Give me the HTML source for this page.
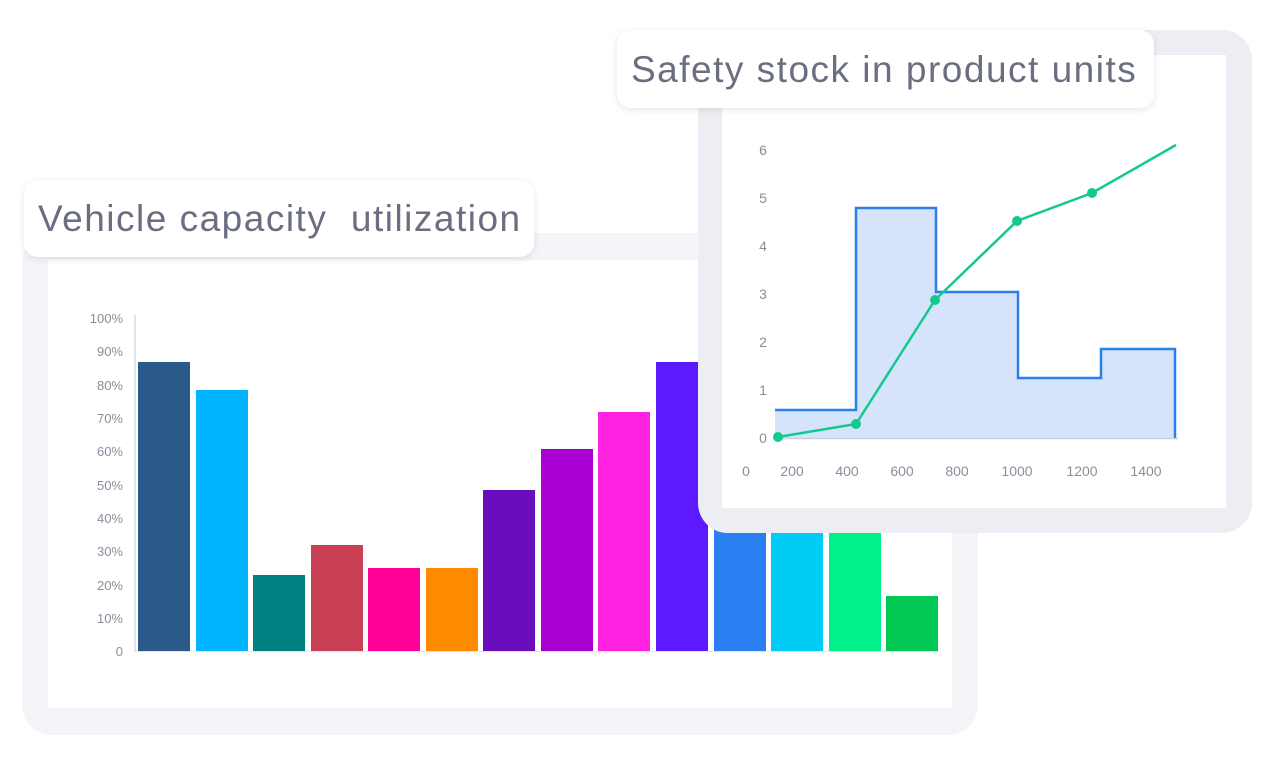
<!DOCTYPE html>
<html><head><meta charset="utf-8"><style>
html,body{margin:0;padding:0;background:#fff;width:1269px;height:759px;overflow:hidden;font-family:"Liberation Sans",sans-serif;}
.abs{position:absolute;}
.title{position:absolute;background:#fff;border-radius:14px;box-shadow:0 2px 8px rgba(0,0,0,0.10);color:#6b6e80;font-size:37px;letter-spacing:1.5px;box-sizing:border-box;padding-left:14px;white-space:nowrap;}
</style></head><body>
<!-- left card -->
<div class="abs" style="left:22px;top:233px;width:956px;height:502px;background:#f3f5f8;border-radius:30px;"></div>
<div class="abs" style="left:48px;top:260px;width:904px;height:448px;background:#fff;"></div>
<svg class="abs" style="left:0;top:0" width="1269" height="759">
<g font-family="Liberation Sans, sans-serif" font-size="13" fill="#8a8e9c" text-anchor="end">
<text x="123" y="323">100%</text><text x="123" y="356">90%</text><text x="123" y="390">80%</text><text x="123" y="423">70%</text><text x="123" y="456">60%</text><text x="123" y="490">50%</text><text x="123" y="523">40%</text><text x="123" y="556">30%</text><text x="123" y="590">20%</text><text x="123" y="623">10%</text><text x="123" y="656">0</text>
</g>
<line x1="135" y1="315" x2="135" y2="652" stroke="#d8dbe2" stroke-width="1.5"/>
<line x1="135" y1="651.5" x2="940" y2="651.5" stroke="#e2e5ea" stroke-width="1"/>
<rect x="138" y="362" width="52" height="289" fill="#2b5a8a"/>
<rect x="196" y="390" width="52" height="261" fill="#00b4ff"/>
<rect x="253" y="575" width="52" height="76" fill="#008080"/>
<rect x="311" y="545" width="52" height="106" fill="#c94055"/>
<rect x="368" y="568" width="52" height="83" fill="#ff0096"/>
<rect x="426" y="568" width="52" height="83" fill="#ff8a00"/>
<rect x="483" y="490" width="52" height="161" fill="#6a0dbd"/>
<rect x="541" y="449" width="52" height="202" fill="#a800d0"/>
<rect x="598" y="412" width="52" height="239" fill="#ff22e0"/>
<rect x="656" y="362" width="52" height="289" fill="#5b1aff"/>
<rect x="714" y="380" width="52" height="271" fill="#2a80f0"/>
<rect x="771" y="400" width="52" height="251" fill="#00ccf5"/>
<rect x="829" y="420" width="52" height="231" fill="#00f08a"/>
<rect x="886" y="596" width="52" height="55" fill="#00c853"/>
</svg>
<div class="title" style="left:24px;top:180px;width:510px;height:77px;line-height:78px;">Vehicle capacity&nbsp; utilization</div>
<!-- right card -->
<div class="abs" style="left:698px;top:30px;width:554px;height:503px;background:#eceef3;border-radius:30px;"></div>
<div class="abs" style="left:722px;top:55px;width:504px;height:453px;background:#fff;"></div>
<svg class="abs" style="left:0;top:0" width="1269" height="759">
<g font-family="Liberation Sans, sans-serif" font-size="14" fill="#8a8e9c" text-anchor="middle">
<text x="763" y="155">6</text><text x="763" y="203">5</text><text x="763" y="251">4</text><text x="763" y="299">3</text><text x="763" y="347">2</text><text x="763" y="395">1</text><text x="763" y="443">0</text>
<text x="746" y="476">0</text><text x="792" y="476">200</text><text x="847" y="476">400</text><text x="902" y="476">600</text><text x="957" y="476">800</text><text x="1017" y="476">1000</text><text x="1082" y="476">1200</text><text x="1146" y="476">1400</text>
</g>
<path d="M775,438 L775,410 L856,410 L856,208 L936,208 L936,292 L1018,292 L1018,378 L1101,378 L1101,349 L1175,349 L1175,438 Z" fill="#d6e4fb"/>
<path d="M775,410 L856,410 L856,208 L936,208 L936,292 L1018,292 L1018,378 L1101,378 L1101,349 L1175,349 L1175,438" fill="none" stroke="#2a7fe8" stroke-width="2.5"/>
<line x1="775" y1="438.5" x2="1178" y2="438.5" stroke="#c9cfd9" stroke-width="1.5"/>
<polyline points="778,437 856,424 935,300 1017,221 1092,193 1176,145" fill="none" stroke="#14c98f" stroke-width="2.5"/>
<g fill="#14c98f"><circle cx="778" cy="437" r="5"/><circle cx="856" cy="424" r="5"/><circle cx="935" cy="300" r="5"/><circle cx="1017" cy="221" r="5"/><circle cx="1092" cy="193" r="5"/></g>
</svg>
<div class="title" style="left:617px;top:30px;width:537px;height:78px;line-height:80px;">Safety stock in product units</div>
</body></html>
